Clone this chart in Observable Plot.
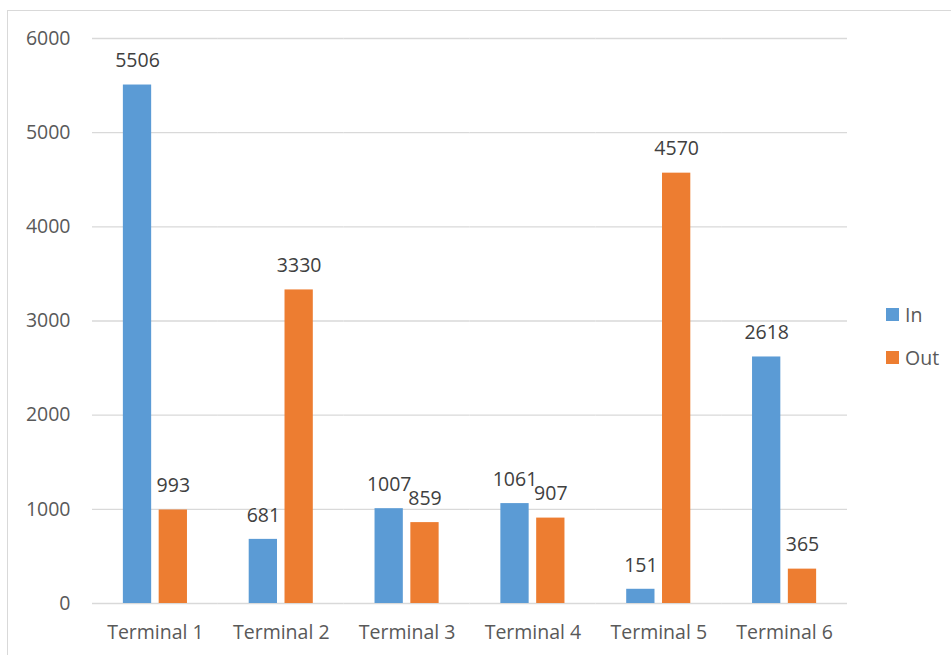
<!DOCTYPE html>
<html>
<head>
<meta charset="utf-8">
<script src="https://cdn.jsdelivr.net/npm/d3@7"></script>
<script src="https://cdn.jsdelivr.net/npm/@observablehq/plot@0.6"></script>
<style>
  html, body { margin: 0; padding: 0; background: #fff; overflow: hidden; }
  #wrap { position: relative; width: 951px; height: 655px; overflow: hidden; }
  #frame { position: absolute; left: 7px; top: 10px; width: 1000px; height: 700px;
           border: 1px solid #D9D9D9; box-sizing: border-box; pointer-events: none; }
  #chart { position: absolute; left: 0; top: 0; }
  #legend { position: absolute; left: 886px; top: 300px; font-family: "Open Sans", sans-serif;
            font-size: 19.5px; color: #595959; }
  .item { display: flex; align-items: center; height: 28px; margin-bottom: 15px; }
  .swatch { width: 13px; height: 13px; margin-right: 6px; }
</style>
</head>
<body>
<div id="wrap">
  <div id="chart"></div>
  <div id="frame"></div>
  <div id="legend"></div>
</div>
<script>
const terminals = ["Terminal 1", "Terminal 2", "Terminal 3", "Terminal 4", "Terminal 5", "Terminal 6"];
const series = ["In", "Out"];
const inValues = [5506, 681, 1007, 1061, 151, 2618];
const outValues = [993, 3330, 859, 907, 4570, 365];
const yTicks = [0, 1000, 2000, 3000, 4000, 5000, 6000];
const colors = ["#5B9BD5", "#ED7D31"];

const rows = terminals.flatMap((t, i) => [
  {terminal: t, series: "In", value: inValues[i]},
  {terminal: t, series: "Out", value: outValues[i]}
]);

const chart = Plot.plot({
  width: 951,
  height: 655,
  marginLeft: 92,
  marginRight: 104,
  marginTop: 38,
  marginBottom: 52,
  style: {fontFamily: "Open Sans, sans-serif", fontSize: "19.5px", color: "#595959", background: "transparent"},
  fx: {domain: terminals, padding: 0, round: false, label: null, axis: "bottom", tickSize: 0, tickPadding: 22},
  x: {domain: series, paddingInner: 0.21, paddingOuter: 0.862, round: false, axis: null},
  y: {domain: [0, 6000], ticks: yTicks, tickSize: 0, tickPadding: 22, label: null},
  color: {domain: series, range: colors},
  marks: [
    Plot.ruleY(yTicks, {stroke: "#D9D9D9", strokeWidth: 1.3}),
    Plot.barY(rows, {fx: "terminal", x: "series", y: "value", fill: "series"}),
    Plot.text(rows, {fx: "terminal", x: "series", y: "value", text: d => String(d.value),
      dy: -24, fill: "#404040", fontSize: 19.5}),
    Plot.axisY({ticks: yTicks, tickFormat: d3.format("d"), tickSize: 0, tickPadding: 22,
      fill: "#595959", fontSize: 19.5})
  ]
});
document.getElementById("chart").appendChild(chart);

const legend = document.getElementById("legend");
series.forEach((s, i) => {
  const item = document.createElement("div");
  item.className = "item";
  const sw = document.createElement("div");
  sw.className = "swatch";
  sw.style.background = colors[i];
  const label = document.createElement("span");
  label.textContent = s;
  item.appendChild(sw);
  item.appendChild(label);
  legend.appendChild(item);
});
</script>
</body>
</html>
